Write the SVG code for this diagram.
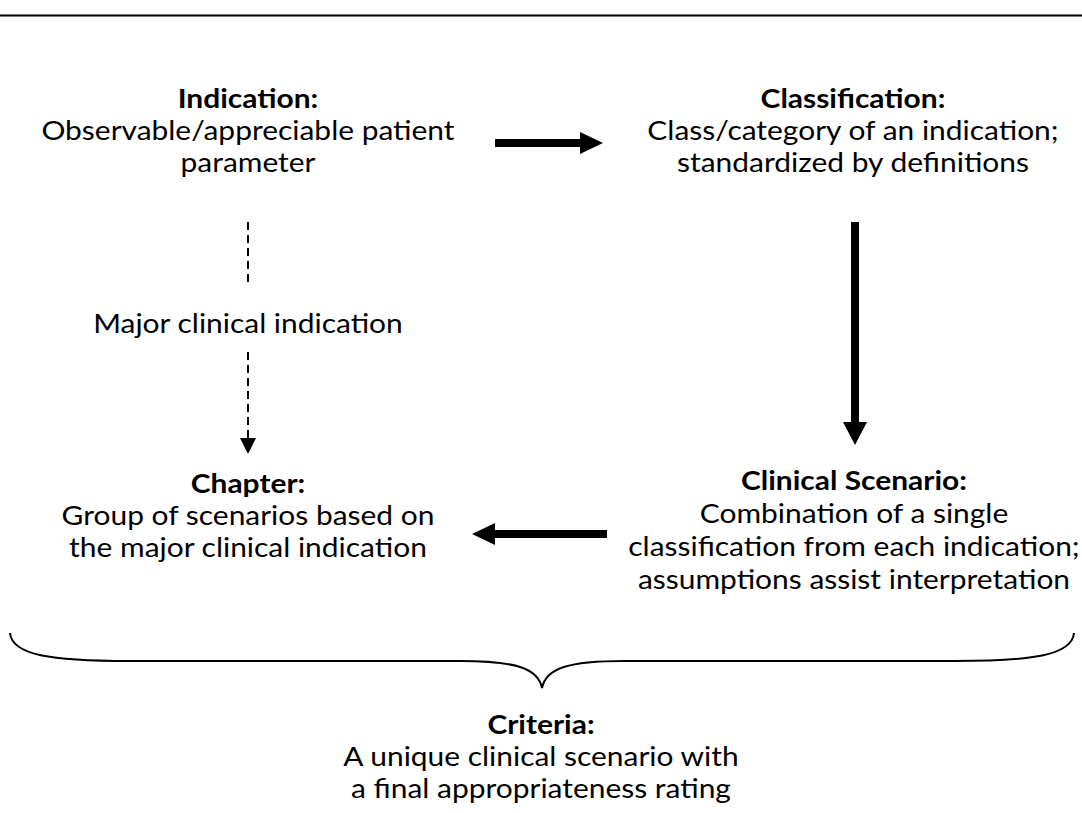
<svg xmlns="http://www.w3.org/2000/svg" width="1082" height="813" viewBox="0 0 1082 813">
<style>
text{font-family:Lato,"Liberation Sans",sans-serif;font-size:26.5px;fill:#000;text-anchor:middle}
.b{font-weight:bold}
.thick{fill:#000;stroke:none}
.dash{stroke:#000;stroke-width:2;stroke-dasharray:8 5;fill:none}
</style>
<defs>
<marker id="tri" markerWidth="16" markerHeight="16" refX="0" refY="8" orient="auto" markerUnits="userSpaceOnUse" viewBox="0 0 16 16">
<path d="M0,0 L16,8 L0,16 Z" fill="#000"/>
</marker>
</defs>
<rect width="1082" height="813" fill="#fff"/>
<line x1="0" y1="15.5" x2="1082" y2="15.5" stroke="#000" stroke-width="2"/>
<g id="indication" transform="translate(248,0) scale(1.13,1)">
<text class="b" x="0" y="108">Indication:</text>
<text x="0" y="140">Observable/appreciable patient</text>
<text x="0" y="172">parameter</text>
</g>
<g id="classification" transform="translate(853,0) scale(1.13,1)">
<text class="b" x="0" y="108">Classification:</text>
<text x="0" y="140">Class/category of an indication;</text>
<text x="0" y="172">standardized by definitions</text>
</g>
<g id="major" transform="translate(248,0) scale(1.13,1)">
<text x="0" y="333">Major clinical indication</text>
</g>
<g id="chapter" transform="translate(248,0) scale(1.13,1)">
<text class="b" x="0" y="493">Chapter:</text>
<text x="0" y="525">Group of scenarios based on</text>
<text x="0" y="557">the major clinical indication</text>
</g>
<g id="scenario" transform="translate(854,0) scale(1.13,1)">
<text class="b" x="0" y="490">Clinical Scenario:</text>
<text x="0" y="523">Combination of a single</text>
<text x="0" y="556">classification from each indication;</text>
<text x="0" y="589">assumptions assist interpretation</text>
</g>
<g id="criteria" transform="translate(541,0) scale(1.13,1)">
<text class="b" x="0" y="734">Criteria:</text>
<text x="0" y="766">A unique clinical scenario with</text>
<text x="0" y="798">a final appropriateness rating</text>
</g>
<g id="connectors">
<polygon class="thick" points="495,139 580,139 580,132 603,143 580,154 580,147 495,147"/>
<polygon class="thick" points="851,222 859,222 859,422 867,422 855,445 843,422 851,422"/>
<polygon class="thick" points="607,530 495,530 495,523 472,534 495,545 495,538 607,538"/>
<line class="dash" x1="248" y1="222" x2="248" y2="285"/>
<line class="dash" x1="248" y1="352" x2="248" y2="438" marker-end="url(#tri)"/>
<path d="M10,633 C12,655 50,661 130,661 L460,661 C515,661 538,668 542,688 C546,668 569,661 624,661 L954,661 C1034,661 1072,655 1074,633" fill="none" stroke="#000" stroke-width="2"/>
</g>
</svg>
